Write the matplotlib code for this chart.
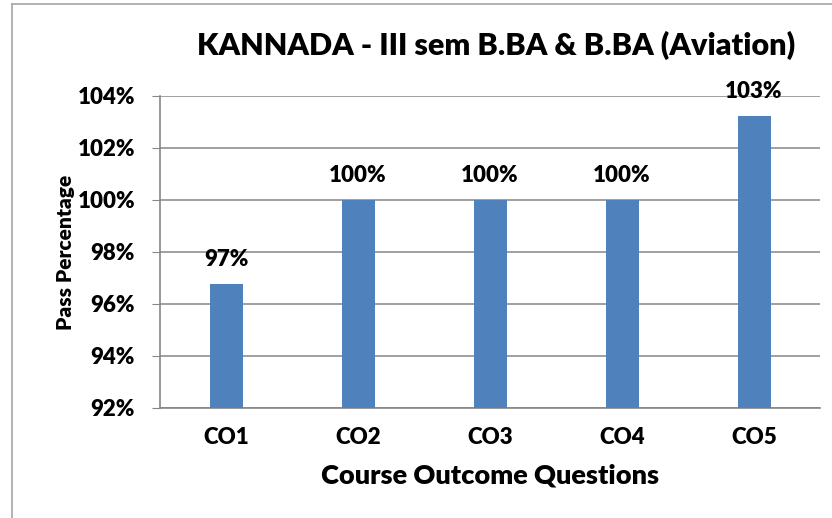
import matplotlib
matplotlib.use('Agg')
import matplotlib.pyplot as plt
from matplotlib.lines import Line2D

# Data
categories = ['CO1', 'CO2', 'CO3', 'CO4', 'CO5']
pass_pct = [96.77, 100.0, 100.0, 100.0, 103.23]
value_labels = ['97%', '100%', '100%', '100%', '103%']
y_ticks = [92, 94, 96, 98, 100, 102, 104]

plt.rcParams['font.family'] = ['Lato', 'DejaVu Sans']
plt.rcParams['font.weight'] = 'bold'

W, H = 832, 518
fig = plt.figure(figsize=(W / 100, H / 100), dpi=100)

# outer chart frame (only top and left edges visible in the crop)
frame_col = '#A6A6A6'
fig.add_artist(Line2D([12 / W, 12 / W], [0, 1 - 4 / H], color=frame_col, lw=1.2))
fig.add_artist(Line2D([12 / W, 1], [1 - 4 / H, 1 - 4 / H], color=frame_col, lw=1.2))

ax = fig.add_axes([160 / W, 1 - 408 / H, 660 / W, 312 / H])
x = range(len(categories))
ax.bar(x, pass_pct, width=0.25, color='#4F81BD', zorder=3)

ax.set_xlim(-0.5, len(categories) - 0.5)
ax.set_ylim(92, 104)
ax.set_yticks(y_ticks)
ax.set_yticklabels([f'{t}%' for t in y_ticks], fontsize=16, fontweight='heavy')
ax.set_xticks(list(x))
ax.set_xticklabels(categories, fontsize=16, fontweight='heavy')

ax.grid(axis='y', color='#868686', lw=1.1, zorder=0)
for s in ['top', 'right']:
    ax.spines[s].set_visible(False)
for s in ['left', 'bottom']:
    ax.spines[s].set_color('#868686')
    ax.spines[s].set_linewidth(1.2)
ax.tick_params(axis='y', length=6, color='#868686', pad=12)
ax.tick_params(axis='x', length=0, pad=14)

for i, (v, lab) in enumerate(zip(pass_pct, value_labels)):
    ax.annotate(lab, (i, v), xytext=(0, 10), textcoords='offset points',
                ha='center', va='bottom', fontsize=16, fontweight='heavy',
                annotation_clip=False)

ax.set_xlabel('Course Outcome Questions', fontsize=19.5, fontweight='heavy', labelpad=11)
ax.set_ylabel('Pass Percentage', fontsize=15, fontweight='heavy', labelpad=2)

fig.text(496 / W, 1 - 45 / H, 'KANNADA - III sem B.BA & B.BA (Aviation)',
         ha='center', va='center', fontsize=22, fontweight='heavy')

fig.savefig('out.png', dpi=100)
